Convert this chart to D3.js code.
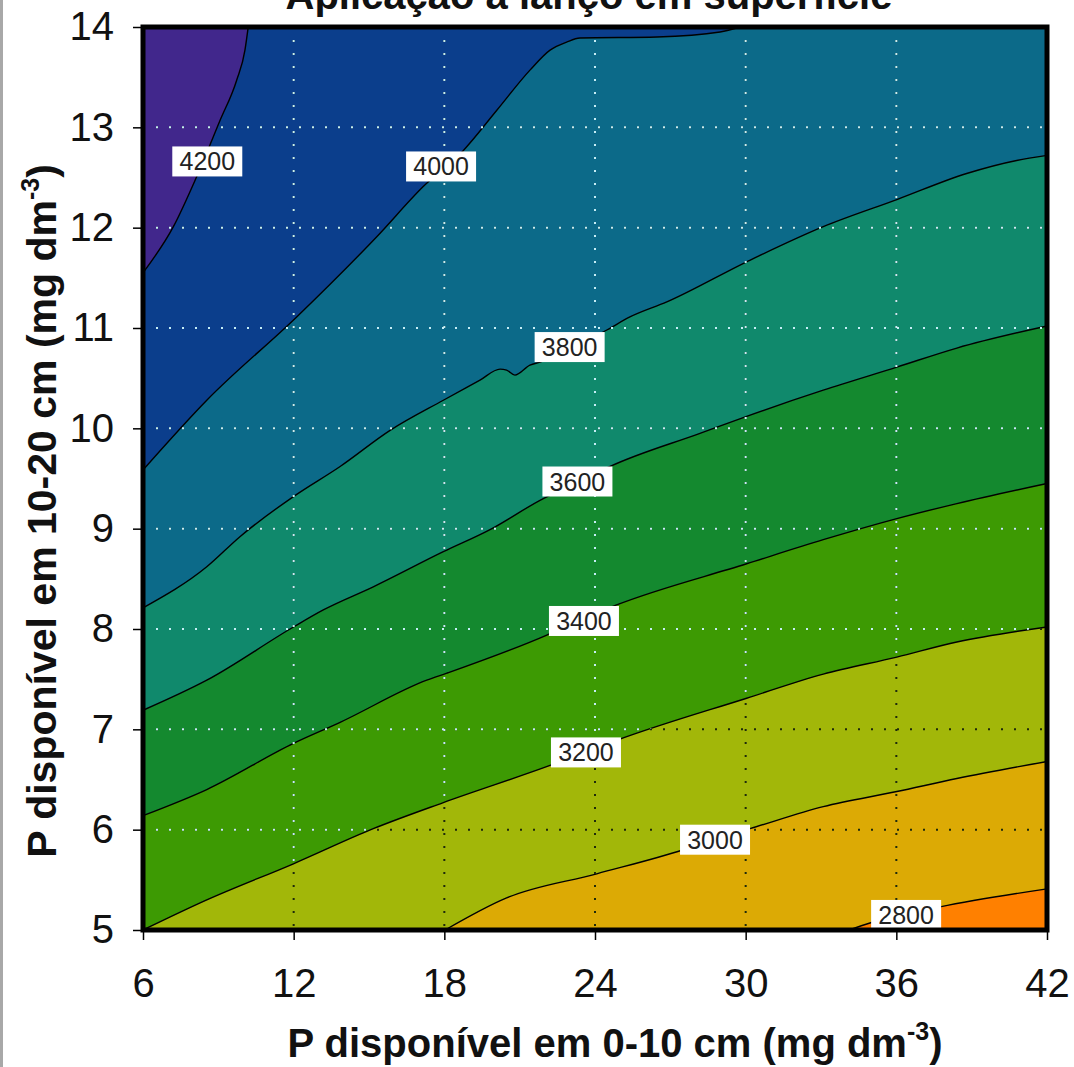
<!DOCTYPE html>
<html>
<head>
<meta charset="utf-8">
<script src="https://cdn.jsdelivr.net/npm/d3@7"></script>
<style>
  body { margin: 0; background: #fff; }
  text { font-family: "Liberation Sans", Arial, sans-serif; }
</style>
</head>
<body>
<svg id="chart" width="1074" height="1067"></svg>
<script>
// contour levels and the iso-lines, as [P 0-10, P 10-20]
const levels = [2800, 3000, 3200, 3400, 3600, 3800, 4000, 4200];

const c2800 = [[34.12, 5.0], [34.95, 5.07], [37.74, 5.23], [42, 5.41]];
const c3000 = [[18.03, 5.0], [20.48, 5.32], [24.07, 5.56], [27.52, 5.80], [28.82, 5.91], [30.17, 6.01],
  [33.09, 6.23], [36.02, 6.38], [38.41, 6.51], [42, 6.68]];
const c3200 = [[6, 5.0], [8.54, 5.30], [11.99, 5.66], [15.17, 6.01], [17.96, 6.27], [22.21, 6.64],
  [23.6, 6.77], [24.86, 6.89], [30.04, 7.31], [33.09, 7.55], [36.02, 7.72], [38.41, 7.87], [42, 8.02]];
const c3400 = [[6, 6.14], [8.54, 6.40], [11.99, 6.86], [13.85, 7.07], [17.30, 7.49], [18.10, 7.56],
  [22.08, 7.94], [23.40, 8.09], [24.86, 8.24], [30.04, 8.65], [33.09, 8.89], [36.02, 9.10], [38.41, 9.25], [42, 9.45]];
const c3600 = [[6, 7.19], [8.54, 7.49], [11.99, 8.02], [13.18, 8.19], [15.17, 8.42], [17.96, 8.77],
  [19.82, 8.99], [21.94, 9.30], [23.32, 9.46], [24.60, 9.62], [28.18, 9.95], [30.04, 10.12],
  [33.09, 10.38], [36.02, 10.61], [38.41, 10.80], [42, 11.02]];
const c3800 = [[6, 8.21], [8.54, 8.62], [9.86, 8.92], [11.99, 9.32], [13.85, 9.62], [15.84, 9.98],
  [17.96, 10.28], [19.42, 10.48], [20.22, 10.59], [20.48, 10.58], [20.81, 10.53], [21.41, 10.63],
  [21.81, 10.66], [23.08, 10.80], [24.47, 10.98], [25.39, 11.11], [26.86, 11.26], [30.04, 11.66],
  [33.09, 12.01], [36.02, 12.28], [38.80, 12.54], [40.79, 12.67], [42, 12.72]];
const c4000 = [[6, 9.585], [8.54, 10.28], [12.12, 11.11], [15.31, 11.91], [17.16, 12.41], [18.76, 12.77],
  [20.09, 13.17], [21.41, 13.57], [22.21, 13.77], [22.87, 13.85], [23.40, 13.89], [26.47, 13.90],
  [28.98, 13.95], [29.78, 14]];
const c4200 = [[6, 11.55], [7.21, 12.01], [8.14, 12.51], [9.07, 13.07], [9.73, 13.47], [10.06, 13.77], [10.19, 14]];

const contours = [c2800, c3000, c3200, c3400, c3600, c3800, c4000, c4200];

// where the level labels sit on each line
const labelAt = [[36.39, 5.15], [28.78, 5.90], [23.64, 6.77], [23.56, 8.08], [23.30, 9.47],
  [22.99, 10.81], [17.87, 12.61], [8.56, 12.66]];

const xTicks = [6, 12, 18, 24, 30, 36, 42];
const yTicks = [5, 6, 7, 8, 9, 10, 11, 12, 13, 14];

// band colours, lowest band first
const palette = ['#ff8000', '#dcaa05', '#a2b709', '#3d9a03', '#14892f', '#10896c', '#0c6a89', '#0b3e8c', '#41278c'];

const svg = d3.select('#chart');

const x = d3.scaleLinear().domain([6, 42]).range([143, 1047]);
const y = d3.scaleLinear().domain([5, 14]).range([930, 27]);

const lineGen = d3.line()
  .x(d => x(d[0]))
  .y(d => y(d[1]))
  .curve(d3.curveMonotoneX);

// position of a border point along the frame, counter-clockwise from (42,5)
function perim(p) {
  const [px, py] = p;
  if (px >= 42 - 1e-9 && py < 14 - 1e-9) return py - 5;
  if (py >= 14 - 1e-9) return 9 + (42 - px);
  if (px <= 6 + 1e-9) return 45 + (14 - py);
  return 54 + (px - 6);
}
const corners = [[42, 14, 9], [6, 14, 45], [6, 5, 54], [42, 5, 90]];

// polygon of the side of a line that holds the higher values
function highSide(pts) {
  let te = perim(pts[pts.length - 1]);
  let ts = perim(pts[0]);
  if (ts <= te) ts += 90;
  let extra = [];
  corners.forEach(c => {
    [c[2], c[2] + 90].forEach(t => {
      if (t > te + 1e-9 && t < ts - 1e-9) extra.push([t, c[0], c[1]]);
    });
  });
  extra.sort((a, b) => a[0] - b[0]);
  return lineGen(pts) + extra.map(c => `L${x(c[1])},${y(c[2])}`).join('') + 'Z';
}

const plot = svg.append('g');

plot.append('rect')
  .attr('x', x(6)).attr('y', y(14))
  .attr('width', x(42) - x(6)).attr('height', y(5) - y(14))
  .attr('fill', palette[0]);

plot.selectAll('path.band')
  .data(contours)
  .join('path')
  .attr('class', 'band')
  .attr('d', d => highSide(d))
  .attr('fill', (d, i) => palette[i + 1]);

// grid: dark dots on the light bands, light dots over the others
svg.append('clipPath').attr('id', 'upper')
  .append('path').attr('d', highSide(c3200));

function grid(g, colour) {
  g.selectAll('line.v')
    .data(xTicks.slice(1, -1))
    .join('line')
    .attr('class', 'v')
    .attr('x1', d => x(d)).attr('x2', d => x(d))
    .attr('y1', y(14)).attr('y2', y(5));
  g.selectAll('line.h')
    .data(yTicks.slice(1, -1))
    .join('line')
    .attr('class', 'h')
    .attr('x1', x(6)).attr('x2', x(42))
    .attr('y1', d => y(d)).attr('y2', d => y(d));
  g.selectAll('line')
    .attr('stroke', colour)
    .attr('stroke-width', 2)
    .attr('stroke-dasharray', '2,11');
}
grid(svg.append('g'), '#1e2a0c');
grid(svg.append('g').attr('clip-path', 'url(#upper)'), '#c6eef6');

plot.selectAll('path.iso')
  .data(contours)
  .join('path')
  .attr('class', 'iso')
  .attr('d', d => lineGen(d))
  .attr('fill', 'none')
  .attr('stroke', '#000')
  .attr('stroke-width', 1.4);

const labels = svg.append('g')
  .selectAll('g')
  .data(levels)
  .join('g')
  .attr('transform', (d, i) => `translate(${x(labelAt[i][0])},${y(labelAt[i][1])})`);

labels.append('rect')
  .attr('x', -35).attr('y', -15)
  .attr('width', 70).attr('height', 30)
  .attr('fill', '#fff');

labels.append('text')
  .attr('text-anchor', 'middle')
  .attr('dy', '0.36em')
  .attr('font-size', 25)
  .attr('fill', '#222')
  .text(d => d);

// frame
svg.append('rect')
  .attr('x', x(6)).attr('y', y(14))
  .attr('width', x(42) - x(6)).attr('height', y(5) - y(14))
  .attr('fill', 'none')
  .attr('stroke', '#000')
  .attr('stroke-width', 5);

const xAxis = svg.append('g')
  .attr('transform', `translate(0,${y(5)})`)
  .call(d3.axisBottom(x).tickValues(xTicks).tickSize(10).tickPadding(29).tickFormat(d3.format('d')));

const yAxis = svg.append('g')
  .attr('transform', `translate(${x(6)},0)`)
  .call(d3.axisLeft(y).tickValues(yTicks).tickSize(10).tickPadding(19).tickFormat(d3.format('d')));

[xAxis, yAxis].forEach(a => {
  a.select('.domain').remove();
  a.selectAll('.tick line').attr('stroke', '#000').attr('stroke-width', 1.5);
  a.selectAll('.tick text')
    .attr('fill', '#111')
    .style('font-family', '"Liberation Sans", Arial, sans-serif')
    .style('font-size', '40px');
});

// titles (the top one is cropped by the picture edge, as in the source)
svg.append('text')
  .attr('x', 589).attr('y', 9)
  .attr('text-anchor', 'middle')
  .attr('font-weight', 'bold')
  .attr('font-size', 40)
  .attr('fill', '#111')
  .text('Aplicação a lanço em superfície');

const xt = svg.append('text')
  .attr('x', 615).attr('y', 1057)
  .attr('text-anchor', 'middle')
  .attr('font-weight', 'bold')
  .attr('font-size', 40)
  .attr('fill', '#111');
xt.append('tspan').text('P disponível em 0-10 cm (mg dm');
xt.append('tspan').attr('dy', -17).attr('font-size', 25).text('-3');
xt.append('tspan').attr('dy', 17).text(')');

const yt = svg.append('text')
  .attr('transform', 'translate(56,511) rotate(-90)')
  .attr('text-anchor', 'middle')
  .attr('font-weight', 'bold')
  .attr('font-size', 41)
  .attr('fill', '#111');
yt.append('tspan').text('P disponível em 10-20 cm (mg dm');
yt.append('tspan').attr('dy', -17).attr('font-size', 25).text('-3');
yt.append('tspan').attr('dy', 17).text(')');

// thin grey edge on the left of the picture
svg.append('line')
  .attr('x1', 1.5).attr('x2', 1.5)
  .attr('y1', 0).attr('y2', 1067)
  .attr('stroke', '#a8a8a8')
  .attr('stroke-width', 3);
</script>
</body>
</html>
